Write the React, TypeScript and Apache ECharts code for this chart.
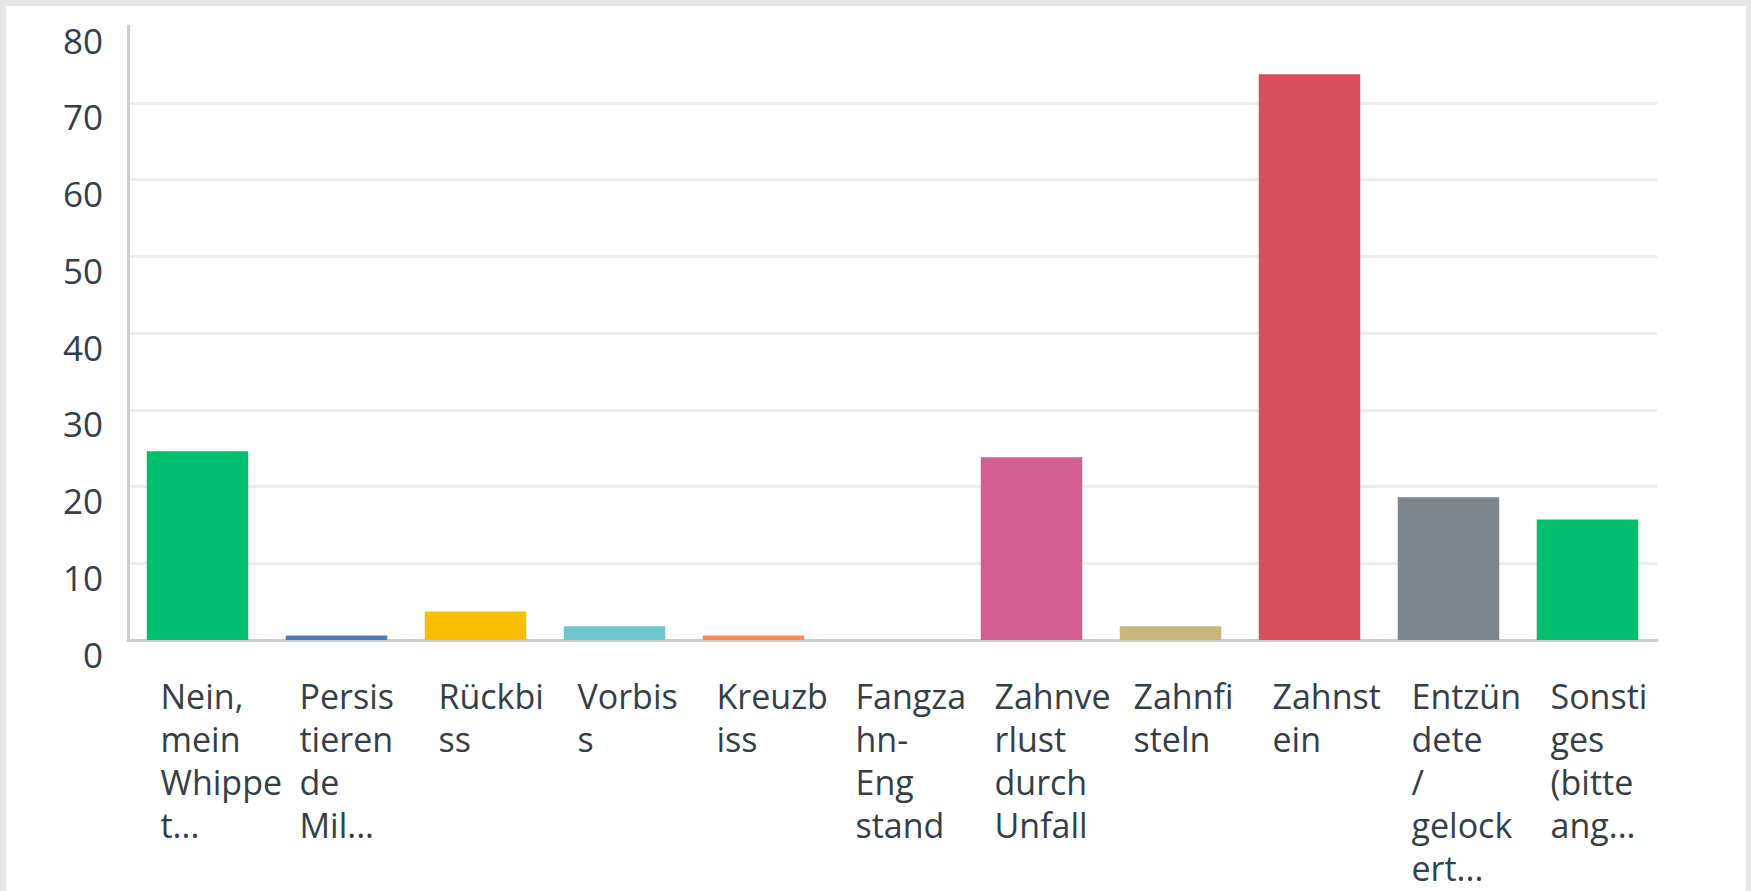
import React, { useEffect, useRef } from "react";
import * as echarts from "echarts";

const categories: string[] = [
  "Nein,\nmein\nWhippe\nt...",
  "Persis\ntieren\nde\nMil...",
  "Rückbi\nss",
  "Vorbis\ns",
  "Kreuzb\niss",
  "Fangza\nhn-\nEng\nstand",
  "Zahnve\nrlust\ndurch\nUnfall",
  "Zahnfi\nsteln",
  "Zahnst\nein",
  "Entzün\ndete\n/\ngelock\nert...",
  "Sonsti\nges\n(bitte\nang...",
];

const values: number[] = [24.6, 0.6, 3.7, 1.8, 0.6, 0, 23.8, 1.8, 73.7, 18.6, 15.7];

const barColors: string[] = [
  "#00bf6f",
  "#507cb6",
  "#f9be00",
  "#6bc8cd",
  "#ff8b4f",
  "#7f7fff",
  "#d25f90",
  "#c7b879",
  "#db4d5c",
  "#7d868c",
  "#00bf6f",
];

const yMin = 0;
const yMax = 80;
const yInterval = 10;

const FONT = "'Open Sans', sans-serif";
const TEXT = "#333e48";

export default function App() {
  const ref = useRef<HTMLDivElement>(null);

  useEffect(() => {
    document.body.style.margin = "0";
    if (!ref.current) return;
    const chart = echarts.init(ref.current, undefined, { renderer: "svg" });
    const lineCount = (yMax - yMin) / yInterval + 1;
    const gridColors: string[] = [];
    for (let i = 0; i < lineCount; i++) {
      gridColors.push(i === lineCount - 1 ? "rgba(0,0,0,0)" : "#ececec");
    }
    chart.setOption({
      animation: false,
      backgroundColor: "#ffffff",
      grid: { left: 122, right: 89, top: 20, bottom: 251, containLabel: false },
      xAxis: {
        type: "category",
        data: categories,
        axisLine: { show: true, lineStyle: { color: "#cccccc", width: 3 } },
        axisTick: { show: false },
        axisLabel: {
          interval: 0,
          align: "center",
          width: 74,
          overflow: "none",
          margin: 34,
          fontSize: 34,
          lineHeight: 43,
          fontFamily: FONT,
          color: TEXT,
          formatter: (v: string) =>
            v
              .split("\n")
              .map((l) => "{a|" + l + "}")
              .join("\n"),
          rich: {
            a: {
              align: "left",
              fontSize: 34,
              lineHeight: 43,
              fontFamily: FONT,
              color: TEXT,
            },
          },
        },
      },
      yAxis: {
        type: "value",
        min: yMin,
        max: yMax,
        interval: yInterval,
        axisLine: { show: true, lineStyle: { color: "#cccccc", width: 3 } },
        axisTick: { show: false },
        splitLine: { show: true, lineStyle: { color: gridColors, width: 3 } },
        axisLabel: {
          margin: 25,
          fontSize: 35,
          fontFamily: FONT,
          color: TEXT,
          verticalAlign: "top",
          lineHeight: 28,
        },
      },
      series: [
        {
          type: "bar",
          barWidth: "73%",
          data: values.map((v, i) => ({
            value: v,
            itemStyle: { color: barColors[i] },
          })),
        },
      ],
    });
    return () => chart.dispose();
  }, []);

  return (
    <div
      style={{
        position: "fixed",
        left: 0,
        top: 0,
        width: 1751,
        height: 891,
        background: "#e5e5e5",
        overflow: "hidden",
      }}
    >
      <div
        ref={ref}
        style={{
          position: "absolute",
          left: 6,
          top: 6,
          width: 1740,
          height: 885,
          background: "#ffffff",
        }}
      />
    </div>
  );
}
